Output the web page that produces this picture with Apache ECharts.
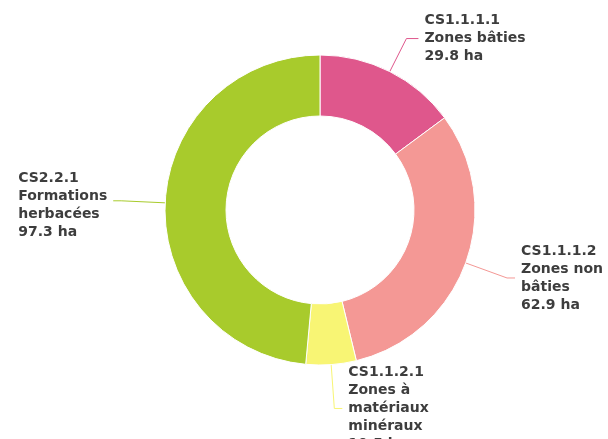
<!DOCTYPE html>
<html>
<head>
<meta charset="utf-8">
<script src="https://cdn.jsdelivr.net/npm/echarts@6/dist/echarts.min.js"></script>
<style>
html,body{margin:0;padding:0;background:#fff;}
#chart{width:608px;height:439px;}
</style>
</head>
<body>
<div id="chart"></div>
<script>
const codes = ['CS1.1.1.1', 'CS1.1.1.2', 'CS1.1.2.1', 'CS2.2.1'];
const labels = ['Zones bâties', 'Zones non\nbâties', 'Zones à\nmatériaux\nminéraux', 'Formations\nherbacées'];
const values = [29.8, 62.9, 10.5, 97.3];
const colors = ['#df578c', '#f49895', '#f8f574', '#a8cb2c'];

// per-slice leader-line tuning (style only)
const lineLen = [37, 44, 44, 44];
const lineLen2 = [12, 8, 8, 8];
const labelPadTop = [0, 0, 0, 10];

const data = codes.map((c, i) => ({
  name: c,
  value: values[i],
  itemStyle: { color: colors[i] },
  label: { padding: [labelPadTop[i], 0, 0, 0] },
  labelLine: { length: lineLen[i], length2: lineLen2[i], lineStyle: { color: colors[i] } }
}));

const chart = echarts.init(document.getElementById('chart'), null, { renderer: 'canvas' });
chart.setOption({
  animation: false,
  backgroundColor: '#ffffff',
  series: [{
    type: 'pie',
    center: [320, 210],
    radius: [94, 155],
    startAngle: 90,
    clockwise: true,
    avoidLabelOverlap: false,
    itemStyle: { borderColor: '#ffffff', borderWidth: 1 },
    label: {
      show: true,
      position: 'outside',
      distanceToLabelLine: 6,
      formatter: function (p) {
        const i = p.dataIndex;
        const lines = [codes[i]].concat(labels[i].split('\n'), [values[i] + ' ha']);
        return lines.map(l => '{a|' + l + '}').join('\n');
      },
      rich: {
        a: {
          align: 'left',
          fontFamily: 'DejaVu Sans',
          fontWeight: 'bold',
          fontSize: 14,
          lineHeight: 18,
          color: '#3d3d3d'
        }
      }
    },
    labelLine: {
      show: true,
      length: 44,
      length2: 8,
      lineStyle: { width: 1 }
    },
    data: data
  }]
});
</script>
</body>
</html>
